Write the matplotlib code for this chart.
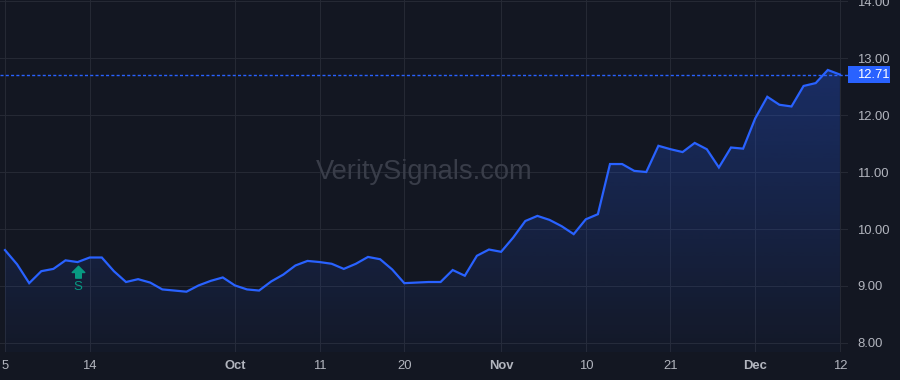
import numpy as np
import pandas as pd
import matplotlib
matplotlib.use('Agg')
import matplotlib.pyplot as plt
from matplotlib.transforms import blended_transform_factory, offset_copy
from matplotlib.patches import Rectangle
from matplotlib.path import Path
from matplotlib.colors import to_rgb

# ---------------- data ----------------
dates = pd.bdate_range('2023-09-05', '2023-12-12').drop(pd.Timestamp('2023-11-23'))
prices = [9.63, 9.38, 9.05, 9.26, 9.30, 9.45, 9.42, 9.50, 9.50, 9.26,
          9.07, 9.12, 9.06, 8.94, 8.92, 8.90, 9.01, 9.09, 9.15, 9.01,
          8.94, 8.92, 9.08, 9.20, 9.36, 9.44, 9.42, 9.39, 9.30, 9.39,
          9.51, 9.47, 9.29, 9.05, 9.06, 9.07, 9.07, 9.28, 9.18, 9.53,
          9.64, 9.60, 9.85, 10.14, 10.23, 10.16, 10.05, 9.91, 10.17, 10.26,
          11.14, 11.14, 11.02, 11.00, 11.46, 11.40, 11.35, 11.51, 11.40, 11.08,
          11.43, 11.41, 11.94, 12.32, 12.18, 12.15, 12.51, 12.56, 12.79, 12.71]
last_price = 12.71
tick_dates = ['2023-09-05', '2023-09-14', '2023-10-02', '2023-10-11', '2023-10-20',
              '2023-11-01', '2023-11-10', '2023-11-21', '2023-12-01', '2023-12-12']
tick_labels = ['5', '14', 'Oct', '11', '20', 'Nov', '10', '21', 'Dec', '12']
month_labels = {'Oct', 'Nov', 'Dec'}
y_ticks = [8, 9, 10, 11, 12, 13, 14]
signal_date = '2023-09-13'
signal_label = 'S'
watermark = 'VeritySignals.com'

# ---------------- style ----------------
BG = '#131722'
GRID = '#252934'
LINE = '#2962ff'
TXT = '#b2b5be'
SIG = '#089981'
FONT = ['Liberation Sans', 'DejaVu Sans']
FS = 9.4
plt.rcParams['font.family'] = FONT

fig = plt.figure(figsize=(9, 3.8), dpi=100, facecolor=BG)
ax = fig.add_axes([0, 28 / 380, 848 / 900, 352 / 380], facecolor=BG)

x = np.arange(len(prices))
ylo, yhi = 7.842, 14.018
ax.set_xlim(-0.413, 69.67)
ax.set_ylim(ylo, yhi)

# grid
tick_pos = [dates.get_loc(pd.Timestamp(d)) for d in tick_dates]
for tp in tick_pos:
    ax.axvline(tp, color=GRID, lw=0.8, zorder=0)
for yt in y_ticks:
    ax.axhline(yt, color=GRID, lw=0.8, zorder=0)

# gradient fill
poly = ax.fill_between(x, prices, ylo, color='none', lw=0)
r, g, b = to_rgb(LINE)
n = 256
alphas = np.linspace(0.03, 0.30, n)
img = np.zeros((n, 1, 4))
img[:, 0, 0] = r
img[:, 0, 1] = g
img[:, 0, 2] = b
img[:, 0, 3] = alphas
im = ax.imshow(img, extent=[x[0], x[-1], ylo, max(prices)], origin='lower',
               aspect='auto', zorder=1, interpolation='bilinear')
im.set_clip_path(poly.get_paths()[0], transform=ax.transData)

ax.plot(x, prices, color=LINE, lw=1.6, zorder=3, solid_joinstyle='miter')

# last price line
ax.axhline(last_price, color=LINE, lw=1.0, ls=(0, (2.2, 1.6)), zorder=2)
bt = blended_transform_factory(ax.transAxes, ax.transData)
ax.add_patch(Rectangle((1.0, last_price - 0.149), 42 / 848, 0.298, transform=bt,
                       facecolor=LINE, edgecolor='none', clip_on=False, zorder=5))
ax.text(1.0 + 9 / 848, last_price, f'{last_price:.2f}', transform=bt, ha='left',
        va='center', color='white', fontsize=FS, zorder=6, clip_on=False)

# signal marker
si = dates.get_loc(pd.Timestamp(signal_date))
arrow = Path([(-1, 0), (0, 1), (1, 0), (0.45, 0), (0.45, -0.9), (-0.45, -0.9), (-0.45, 0), (-1, 0)],
             [Path.MOVETO] + [Path.LINETO] * 6 + [Path.CLOSEPOLY])
ax.plot([si], [prices[si]], marker=arrow, markersize=9, color=SIG, lw=0,
        transform=offset_copy(ax.transData, fig=fig, x=0, y=-10, units='dots'), zorder=4)
ax.annotate(signal_label, xy=(si, prices[si]), xytext=(0, -25 * 0.72), textcoords='offset points',
            ha='center', va='center', color=SIG, fontsize=9.6, zorder=4)

# watermark
ax.text(0.5, 0.511, watermark, transform=ax.transAxes, ha='center', va='center',
        color='#393d49', fontsize=19.6, zorder=0.5)

# axes
for s in ax.spines.values():
    s.set_visible(False)
ax.yaxis.tick_right()
ax.set_yticks(y_ticks)
ax.set_yticklabels([f'{v:.2f}' for v in y_ticks])
ax.tick_params(axis='y', length=0, pad=6.5, labelcolor=TXT, labelsize=FS)
ax.set_xticks(tick_pos)
ax.set_xticklabels(tick_labels)
ax.tick_params(axis='x', length=0, pad=5.5, labelcolor=TXT, labelsize=FS)
for lab in ax.get_xticklabels():
    if lab.get_text() in month_labels:
        lab.set_fontweight('bold')

fig.savefig('out.png', dpi=100, facecolor=BG)
